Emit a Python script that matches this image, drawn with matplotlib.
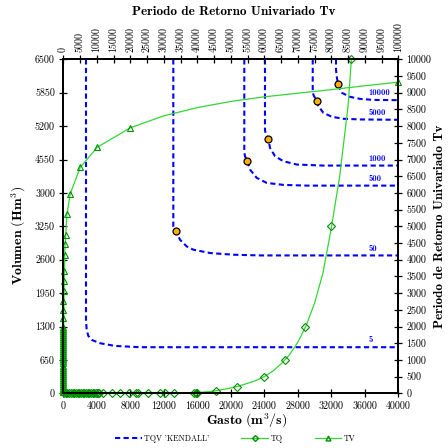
import matplotlib
matplotlib.use("Agg")
import matplotlib.pyplot as plt
import numpy as np
from matplotlib.lines import Line2D

plt.rcParams['font.family'] = 'cmr10'
plt.rcParams['mathtext.fontset'] = 'cm'
plt.rcParams['axes.formatter.use_mathtext'] = True
plt.rcParams['axes.unicode_minus'] = False

# --- Kendall return period isolines (Gasto, Volumen) ---
kendall_periods = ['5', '50', '500', '1000', '5000', '10000']
kendall_q = [
    [2710, 2710, 2790, 2985, 3390, 4380, 6170, 9160, 40000],
    [13135, 13135, 13250, 13460, 13930, 14730, 15520, 17520, 20300, 23490, 40000],
    [21610, 21610, 21690, 21970, 22290, 23090, 24280, 26270, 29060, 40000],
    [24080, 24080, 24200, 24480, 24680, 25280, 26270, 27870, 31040, 40000],
    [29780, 29780, 29930, 30260, 30450, 31040, 32050, 33430, 35420, 40000],
    [32560, 32560, 32680, 32840, 33240, 34230, 35420, 37010, 40000],
]
kendall_v = [
    [6500, 1430, 1234, 1117, 1040, 975, 922, 897, 897],
    [6500, 3250, 3200, 3151, 2989, 2859, 2795, 2730, 2697, 2683, 2683],
    [6500, 4700, 4614, 4516, 4355, 4193, 4095, 4056, 4042, 4042],
    [6500, 5120, 5037, 4940, 4778, 4614, 4517, 4452, 4432, 4432],
    [6500, 5850, 5785, 5694, 5592, 5460, 5382, 5343, 5330, 5323],
    [6500, 6300, 6130, 5980, 5850, 5770, 5730, 5710, 5705],
]

# design events on isolines
event_q = [13460, 21970, 24480, 30260, 32840]
event_v = [3151, 4516, 4940, 5694, 6026]

# --- TQ: univariate return period of Gasto ---
tq_q = [100, 300, 500, 700, 900, 1100, 1300, 1500, 1700, 1900, 2100, 2300, 2500,
        2700, 2900, 3100, 3300, 3500, 3700, 3900, 4100, 4300, 4776, 5780, 6770,
        7880, 8680, 8955, 10150, 11545, 12140, 13220, 15610, 15810, 16000, 18230,
        20740, 24000, 26430, 28860, 32000, 34400]
tq_t = [1.0, 1.0, 1.0, 1.0, 1.1, 1.1, 1.1, 1.2, 1.2, 1.2, 1.3, 1.3, 1.3,
        1.4, 1.4, 1.5, 1.5, 1.5, 1.6, 1.6, 1.7, 1.7, 1.8, 2.0, 2.3,
        2.7, 3.0, 3.2, 4, 6, 7, 9, 18, 19, 20, 70,
        200, 500, 1000, 2000, 5000, 10000]
tq_line_q = [0, 4000, 8000, 12000, 14000, 16000, 18000, 20000, 21000, 22000, 23000,
             24000, 25000, 26000, 27000, 28000, 29000, 30000, 31000, 32000, 33000,
             34000, 34400]
tq_line_t = [1, 1.6, 2.8, 7, 12, 22, 65, 160, 220, 300, 380, 500, 660, 880, 1150,
             1530, 2030, 2700, 3600, 4950, 6500, 8600, 10000]

# --- TV: univariate return period of Volumen ---
tv_v = [20, 60, 100, 140, 180, 220, 260, 300, 340, 380, 420, 460, 500, 540, 580,
        620, 660, 700, 740, 780, 820, 860, 900, 940, 980, 1020, 1060, 1100, 1140,
        1180, 1220, 1260, 1300, 1462, 1625, 1787, 1982, 2177, 2372, 2697, 2900,
        3087, 3490, 3886, 4399, 4789, 5167, 6050]
tv_t = [1.0, 1.0, 1.1, 1.1, 1.2, 1.3, 1.4, 1.5, 1.6, 1.7, 1.9, 2.0, 2.2, 2.4, 2.6,
        2.8, 3.1, 3.4, 3.7, 4.1, 4.5, 5.0, 5.5, 6.2, 7.0, 7.8, 8.8, 9.8, 11,
        12, 13, 14, 15, 22, 32, 48, 75, 120, 190, 420, 560,
        716, 1100, 2090, 5075, 10150, 20000, 100000]
tv_line_t = [0, 100, 300, 500, 716, 1100, 2090, 5075, 10150, 20000, 30000, 40000,
             50000, 60000, 70000, 80000, 90000, 100000]
tv_line_v = [0, 1300, 2300, 2850, 3087, 3490, 3886, 4399, 4789, 5167, 5400, 5560,
             5680, 5770, 5840, 5910, 5985, 6055]

x_ticks = np.arange(0, 40001, 4000)
y_ticks = np.arange(0, 6501, 650)
top_ticks = np.arange(0, 100001, 5000)
right_ticks = np.arange(0, 10001, 500)

blue = '#0000ff'
green_line = '#33d633'
green_mark = '#008f00'

fig = plt.figure(figsize=(4.48, 4.48), dpi=100)
ax = fig.add_axes([0.1413, 0.1221, 0.7478, 0.7455])
axr = ax.twinx()
axt = ax.twiny()

for q, v, lab in zip(kendall_q, kendall_v, kendall_periods):
    ax.plot(q, v, color=blue, lw=1.5, dashes=(2.5, 1.6), zorder=2)
    ax.annotate(lab, xy=(36400, v[-1]), xytext=(0, 2), textcoords='offset points',
                ha='left', va='bottom', color=blue, fontsize=6.2, family='cmb10')

ax.plot(event_q, event_v, 'o', ms=5, mfc='#ffb000', mec='black', mew=0.9, zorder=5)

axr.plot(tq_line_q, tq_line_t, color=green_line, lw=0.9, clip_on=False)
axr.plot(tq_q, tq_t, 'D', ms=3.6, mfc='none', mec=green_mark, mew=0.8, clip_on=False)

axt.plot(tv_line_t, tv_line_v, color=green_line, lw=0.9, clip_on=False)
axt.plot(tv_t, tv_v, '^', ms=4, mfc='none', mec=green_mark, mew=0.8, clip_on=False)

ax.set_xlim(0, 40000)
ax.set_ylim(0, 6500)
axr.set_ylim(0, 10000)
axt.set_xlim(0, 100000)

ax.set_xticks(x_ticks)
ax.set_xticklabels([str(t) for t in x_ticks])
ax.set_yticks(y_ticks)
ax.set_yticklabels([str(t) for t in y_ticks])
axr.set_yticks(right_ticks)
axr.set_yticklabels([str(t) for t in right_ticks])
axt.set_xticks(top_ticks)
axt.set_xticklabels([str(t) for t in top_ticks])

for a in (ax, axr, axt):
    a.tick_params(direction='inout', length=6, width=0.9, labelsize=7.2, pad=3)
    for s in a.spines.values():
        s.set_linewidth(1.2)
axt.tick_params(axis='x', labelrotation=90, pad=2)

fig.text(0.522, 0.973, 'Periodo de Retorno Univariado Tv', ha='center', va='center',
         family='cmb10', fontsize=9.5)
fig.text(0.551, 0.06, r'$\mathbf{Gasto\ (m^3/s)}$', ha='center', va='center', fontsize=10)
fig.text(0.042, 0.475, r'$\mathbf{Volumen\ (Hm^3)}$', ha='center', va='center',
         rotation=90, fontsize=10)
fig.text(0.982, 0.495, 'Periodo de Retorno Univariado Tv', ha='center', va='center',
         rotation=90, family='cmb10', fontsize=9.5)

handles = [
    Line2D([], [], color=blue, lw=1.5, dashes=(2.5, 1.6)),
    Line2D([], [], color=green_line, lw=0.9, marker='D', ms=3, mfc='none', mec=green_mark),
    Line2D([], [], color=green_line, lw=0.9, marker='^', ms=3.5, mfc='none', mec=green_mark),
]
fig.legend(handles, ["TQV 'KENDALL'", 'TQ', 'TV'], ncol=3, loc='center',
           bbox_to_anchor=(0.525, 0.02), frameon=False, fontsize=5.8,
           handlelength=3.3, columnspacing=4, handletextpad=0.3)

fig.savefig('out.png', dpi=100)
